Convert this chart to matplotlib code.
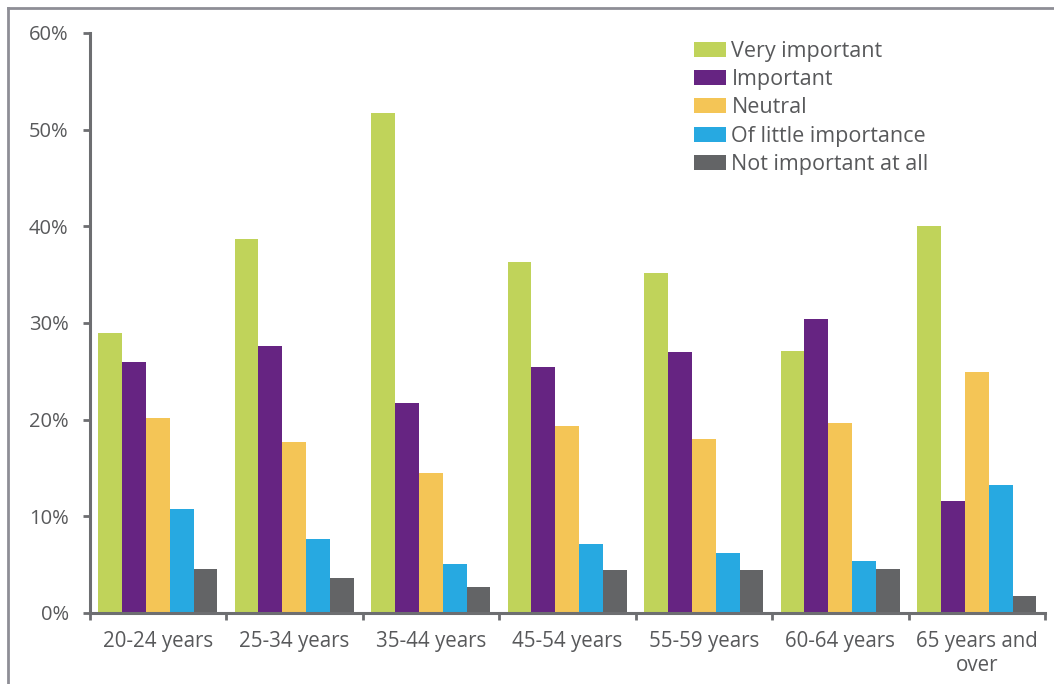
import matplotlib
matplotlib.use("Agg")
import matplotlib.pyplot as plt
from matplotlib.lines import Line2D
import numpy as np

plt.rcParams['font.family'] = ['Open Sans', 'DejaVu Sans']

age_groups = ["20-24 years", "25-34 years", "35-44 years", "45-54 years",
              "55-59 years", "60-64 years", "65 years and\nover"]
series_names = ["Very important", "Important", "Neutral",
                "Of little importance", "Not important at all"]
very_important = [29.0, 38.7, 51.7, 36.3, 35.2, 27.1, 40.0]
important = [26.0, 27.6, 21.7, 25.4, 27.0, 30.4, 11.6]
neutral = [20.2, 17.7, 14.5, 19.3, 18.0, 19.7, 24.9]
little_importance = [10.8, 7.7, 5.1, 7.1, 6.2, 5.4, 13.2]
not_important = [4.6, 3.6, 2.7, 4.4, 4.4, 4.6, 1.8]
y_ticks = [0, 10, 20, 30, 40, 50, 60]

series = [very_important, important, neutral, little_importance, not_important]
colors = ["#C0D35A", "#662482", "#F4C556", "#27A9E1", "#636466"]
text_color = "#58595B"
axis_color = "#6D6E71"

fig = plt.figure(figsize=(10.54, 6.84), dpi=100)
ax = fig.add_axes([89.5 / 1054, 71 / 684, (1045 - 89.5) / 1054, 580 / 684])

n = len(age_groups)
bar_w = 0.175
start = (1 - bar_w * len(series)) / 2
for k, (name, vals, c) in enumerate(zip(series_names, series, colors)):
    x = np.arange(n) + start + bar_w * k
    ax.bar(x, vals, width=bar_w, align='edge', color=c, label=name, linewidth=0)

ax.set_xlim(0, n)
ax.set_ylim(0, 60)
ax.set_yticks(y_ticks)
ax.set_yticklabels([f"{t}%" for t in y_ticks])
ax.set_xticks(np.arange(n + 1))
ax.set_xticklabels([])
ax.set_xticks(np.arange(n) + 0.5, minor=True)
ax.set_xticklabels(age_groups, minor=True)

for s in ("top", "right"):
    ax.spines[s].set_visible(False)
for s in ("left", "bottom"):
    ax.spines[s].set_color(axis_color)
    ax.spines[s].set_linewidth(2.2)

ax.tick_params(axis='y', which='major', direction='out', length=5, width=2,
               color=axis_color, labelcolor=text_color, labelsize=14.5, pad=10)
ax.tick_params(axis='x', which='major', direction='out', length=5, width=2,
               color=axis_color)
ax.tick_params(axis='x', which='minor', length=0, labelcolor=text_color,
               labelsize=14.8, pad=13)
for lbl in ax.get_xticklabels(minor=True):
    lbl.set_linespacing(1.2)

leg = ax.legend(loc='upper left', bbox_to_anchor=(683 / 1054, 1 - 30 / 684),
                bbox_transform=fig.transFigure, frameon=False,
                fontsize=15.5, handlelength=1.5, handleheight=0.7,
                handletextpad=0.25, labelspacing=0.34, borderpad=0)
for t in leg.get_texts():
    t.set_color(text_color)

# outer frame lines
fig.add_artist(Line2D([7.5 / 1054, 7.5 / 1054], [0, 1 - 8 / 684],
                      transform=fig.transFigure, color="#8E8E96", linewidth=2))
fig.add_artist(Line2D([7.5 / 1054, 1], [1 - 8 / 684, 1 - 8 / 684],
                      transform=fig.transFigure, color="#8E8E96", linewidth=2))

fig.savefig("out.png", dpi=100)
